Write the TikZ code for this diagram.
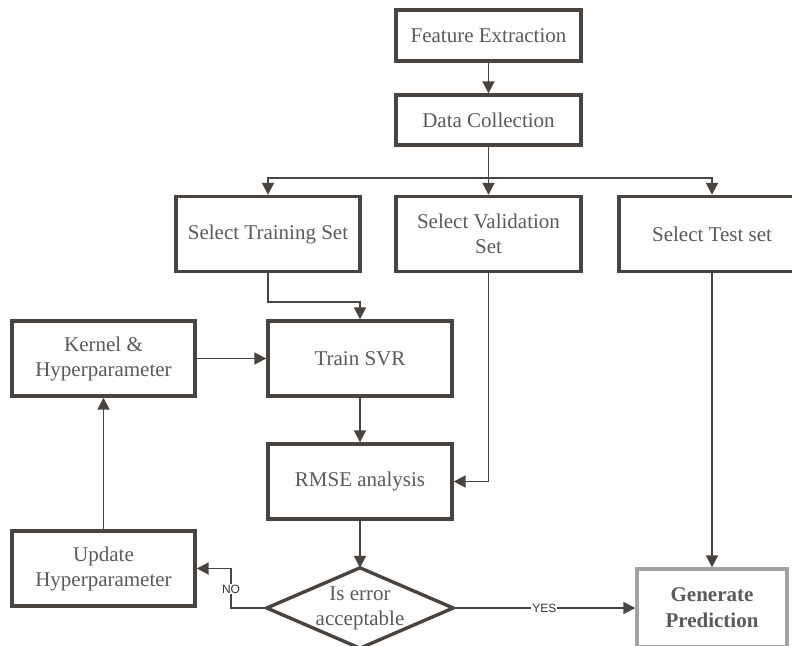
\documentclass[tikz,border=0pt]{standalone}
\usepackage{fontspec}
\setmainfont{Liberation Serif}
\newfontfamily\lblfont{Liberation Sans}
\usetikzlibrary{arrows.meta}
\definecolor{ln}{HTML}{4A4440}
\definecolor{tx}{HTML}{5A5A5A}
\definecolor{gb}{HTML}{A3A3A3}
\tikzset{
  box/.style={draw=ln, line width=3.4pt, fill=white, text=tx, align=center, inner sep=0pt,
    font=\fontsize{21}{25}\selectfont},
  gbox/.style={box, draw=gb, font=\bfseries\fontsize{21}{26}\selectfont},
  arr/.style={draw=ln, line width=1.9pt, -{Triangle[length=12pt,width=12pt]}},
  lbl/.style={fill=white, inner sep=1pt, text=black!80, font=\lblfont\fontsize{12}{13}\selectfont},
}
\begin{document}
\begin{tikzpicture}[x=1pt,y=-1pt]
\useasboundingbox (0,0) rectangle (792,645);
\clip (0,0) rectangle (792,645);
% nodes
\node[box, minimum width=185pt, minimum height=51pt] (fe) at (488.5,35.5) {Feature Extraction};
\node[box, minimum width=185pt, minimum height=50pt] (dc) at (488.5,120) {Data Collection};
\node[box, minimum width=184pt, minimum height=75pt] (ts) at (268,234) {Select Training Set};
\node[box, minimum width=185pt, minimum height=75pt] (vs) at (488.5,234) {Select Validation\\Set};
\node[box, minimum width=186pt, minimum height=75pt] (tst) at (712,234) {Select Test set};
\node[box, minimum width=184pt, minimum height=75pt] (svr) at (360,358.5) {Train SVR};
\node[box, minimum width=183pt, minimum height=75pt] (ker) at (103.5,358.5) {Kernel \&\\Hyperparameter};
\node[box, minimum width=184pt, minimum height=75pt] (rmse) at (360,481.5) {RMSE analysis};
\node[box, minimum width=183pt, minimum height=75pt] (upd) at (103.5,568.5) {Update\\Hyperparameter};
\node[minimum width=186pt, minimum height=80pt, inner sep=0pt] (dia) at (360,608) {};
\draw[draw=ln, line width=3.4pt, fill=white, line join=miter] (dia.north) -- (dia.east) -- (dia.south) -- (dia.west) -- cycle;
\node[text=tx, align=center, font=\fontsize{21}{25}\selectfont] (diat) at (dia.center) {Is error\\acceptable};
\node[gbox, minimum width=150pt, minimum height=78pt] (gp) at (712,608) {Generate\\Prediction};
% coordinates
\coordinate (split) at (488.5,178);
\coordinate (tbend) at (360,302);
\coordinate (nobend) at (231,568.5);
% connectors
\draw[arr] (fe.south) -- (dc.north);
\draw[arr] (dc.south) -- (vs.north);
\draw[arr] (split) -| (ts.north);
\draw[arr] (split) -| (tst.north);
\draw[arr] (ts.south) |- (tbend) -- (svr.north);
\draw[arr] (ker.east) -- (svr.west);
\draw[arr] (svr.south) -- (rmse.north);
\draw[arr] (vs.south) |- (rmse.east);
\draw[arr] (rmse.south) -- (dia.north);
\draw[arr] (tst.south) -- (gp.north);
\draw[arr] (dia.east) -- node[lbl] {YES} (gp.west);
\draw[arr] (dia.west) -| (nobend) -- (upd.east);
\node[lbl] (nolbl) at (231,589) {NO};
\draw[arr] (upd.north) -- (ker.south);
\end{tikzpicture}
\end{document}
